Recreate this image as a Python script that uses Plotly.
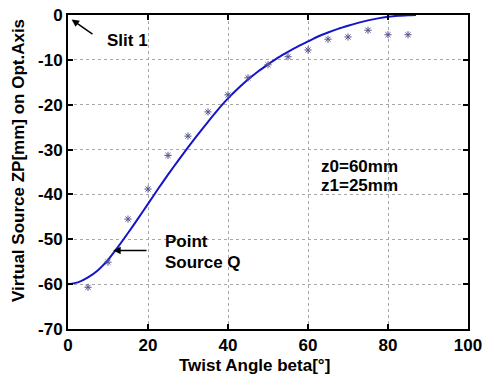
import plotly.graph_objects as go

# measured points (asterisks)
beta_meas = [5, 10, 15, 20, 25, 30, 35, 40, 45, 50, 55, 60, 65, 70, 75, 80, 85]
zp_meas = [-60.7, -55.1, -45.5, -38.8, -31.3, -27.0, -21.6, -17.8, -14.0, -11.1,
           -9.3, -7.8, -5.4, -4.9, -3.4, -4.4, -4.4]

# theory curve
beta_curve = [0, 2.5, 5, 7.5, 10, 12.5, 15, 17.5, 20, 22.5, 25, 27.5, 30, 32.5, 35, 37.5,
              40, 42.5, 45, 47.5, 50, 52.5, 55, 57.5, 60, 62.5, 65, 67.5, 70, 72.5, 75,
              77.5, 80, 82.5, 85, 87]
zp_curve = [-60.0, -59.6, -58.5, -56.9, -54.6, -51.7, -48.6, -45.4, -42.1, -38.8, -35.6,
            -32.5, -29.5, -26.6, -23.8, -21.1, -18.6, -16.4, -14.4, -12.6, -11.0, -9.5,
            -8.2, -7.0, -5.9, -4.8, -3.9, -3.1, -2.4, -1.75, -1.2, -0.75, -0.4, -0.17,
            -0.05, 0.0]

x_ticks = [0, 20, 40, 60, 80, 100]
y_ticks = [0, -10, -20, -30, -40, -50, -60, -70]

L, R, T, B = 68, 15, 15, 45
W, H = 483, 374
pw, ph = W - L - R, H - T - B

def px(x):
    return (x - L) / pw

def py(y):
    return (H - B - y) / ph

FAM = "Liberation Sans, Arial, sans-serif"
fnt = dict(family=FAM, size=17, color="black", weight="bold")

fig = go.Figure()
fig.add_trace(go.Scatter(x=beta_curve, y=zp_curve, mode="lines",
                         line=dict(color="#1414c8", width=2, shape="spline", smoothing=0.6),
                         showlegend=False))
fig.add_trace(go.Scatter(x=beta_meas, y=zp_meas, mode="markers",
                         marker=dict(symbol="asterisk-open", size=6, color="#55558f",
                                     line=dict(color="#55558f", width=1)),
                         showlegend=False))

axis_common = dict(showline=True, linecolor="black", linewidth=2, mirror="ticks",
                   ticks="inside", ticklen=5, tickwidth=2, tickcolor="black",
                   showgrid=True, gridcolor="#a8a8a8", gridwidth=1, griddash="dot",
                   zeroline=False, automargin=False, tickfont=fnt)
fig.update_xaxes(range=[0, 100], tickvals=x_ticks,
                 ticktext=[str(v) for v in x_ticks], **axis_common)
fig.update_yaxes(range=[-70, 0], tickvals=y_ticks,
                 ticktext=[str(v) for v in y_ticks], **axis_common)

def txt(s, x, y, xanchor="left", angle=0):
    return dict(text=s, xref="paper", yref="paper", x=px(x), y=py(y), showarrow=False,
                font=fnt, xanchor=xanchor, yanchor="middle", textangle=angle)

ann = [
    txt("Virtual Source ZP[mm] on Opt.Axis", 18, 161, "center", -90),
    txt("Twist Angle beta[°]", 254, 365, "center"),
    txt("Slit 1", 105, 41),
    txt("Point", 163, 242),
    txt("Source Q", 163, 262),
    txt("z0=60mm", 319, 166),
    txt("z1=25mm", 319, 185),
    dict(x=0.9, y=-1.0, xref="x", yref="y", ax=6.5, ay=-4.5,
         axref="x", ayref="y", showarrow=True, arrowhead=2, arrowsize=1,
         arrowwidth=1.5, arrowcolor="black", text=""),
    dict(x=11.3, y=-52.5, xref="x", yref="y", ax=20.0, ay=-52.5,
         axref="x", ayref="y", showarrow=True, arrowhead=2, arrowsize=1,
         arrowwidth=1.5, arrowcolor="black", text=""),
]

fig.update_layout(width=W, height=H, margin=dict(l=L, r=R, t=T, b=B),
                  paper_bgcolor="white", plot_bgcolor="white", annotations=ann,
                  showlegend=False)
fig.write_html("out.html")
